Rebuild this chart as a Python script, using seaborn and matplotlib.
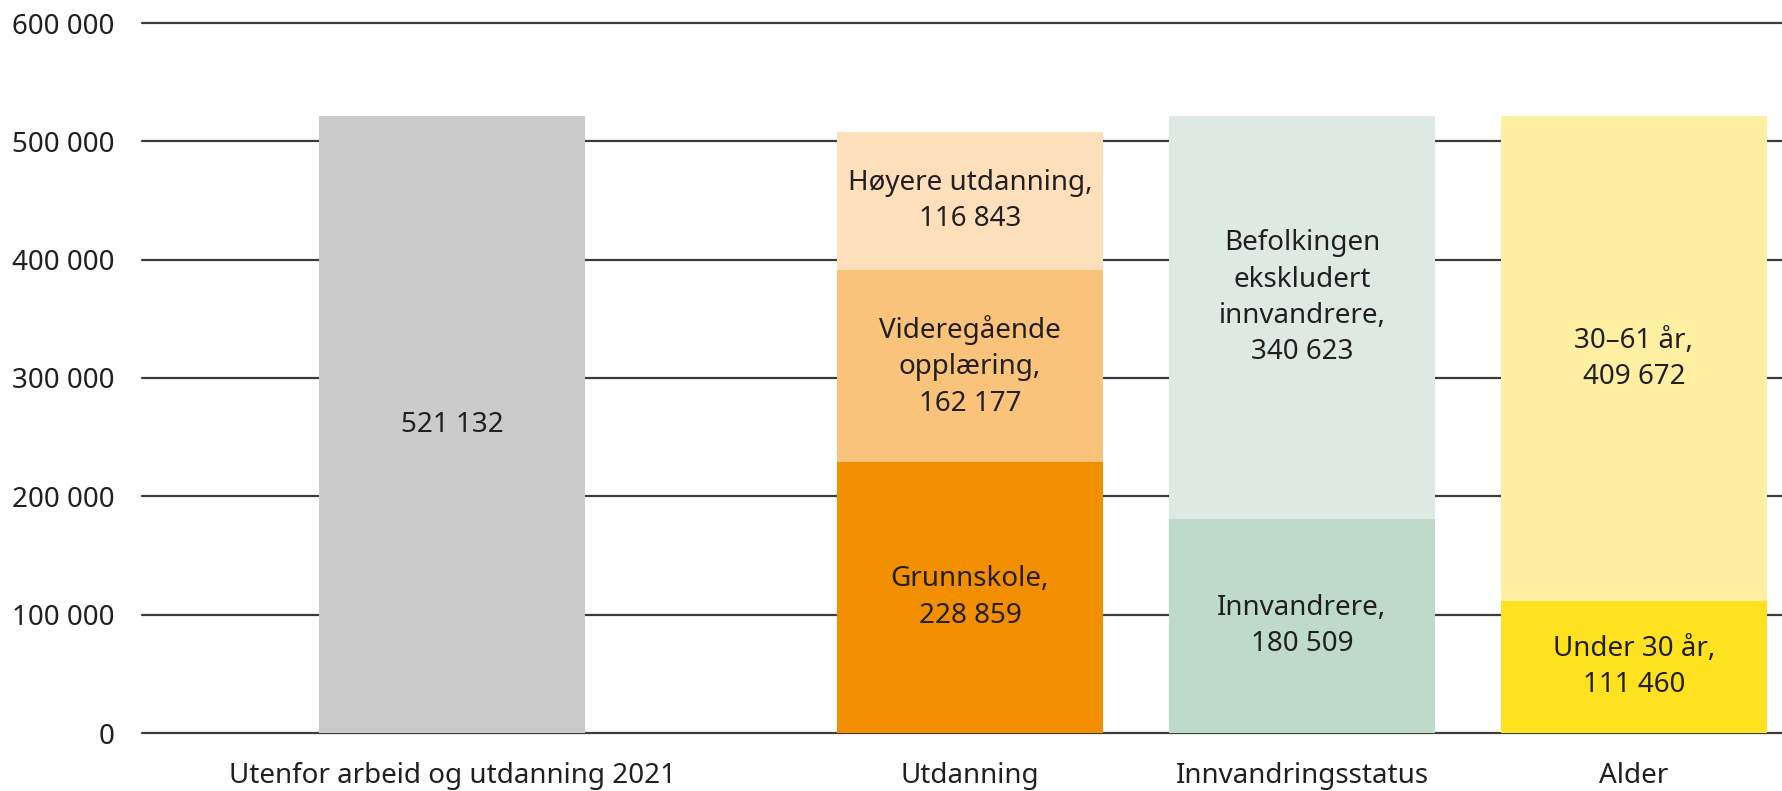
import pandas as pd
import matplotlib.pyplot as plt
import seaborn as sns

# bar groups and their positions along the x axis (uneven spacing as in the original)
groups = ["Utenfor arbeid og utdanning 2021", "Utdanning", "Innvandringsstatus", "Alder"]
group_pos = [0.0, 1.56, 2.56, 3.56]

# segments, bottom to top, per group
segments = {
    "Utenfor arbeid og utdanning 2021": [("521 132", 521132)],
    "Utdanning": [("Grunnskole,\n228 859", 228859),
                  ("Videregående\nopplæring,\n162 177", 162177),
                  ("Høyere utdanning,\n116 843", 116843)],
    "Innvandringsstatus": [("Innvandrere,\n180 509", 180509),
                           ("Befolkingen\nekskludert\ninnvandrere,\n340 623", 340623)],
    "Alder": [("Under 30 år,\n111 460", 111460),
              ("30–61 år,\n409 672", 409672)],
}
colors = {
    "Utenfor arbeid og utdanning 2021": ["#CACACA"],
    "Utdanning": ["#F18F00", "#F9C37C", "#FDDFBC"],
    "Innvandringsstatus": ["#BDDACB", "#DFE9E3"],
    "Alder": ["#FFE21F", "#FFEFA2"],
}

yticks = [0, 100000, 200000, 300000, 400000, 500000, 600000]
ytick_labels = ["0", "100 000", "200 000", "300 000", "400 000", "500 000", "600 000"]

sns.set_style("white")
plt.rcParams['font.family'] = ['Noto Sans', 'DejaVu Sans']
text_color = "#231F20"

fig = plt.figure(figsize=(17.82, 7.91), dpi=100)
ax = fig.add_axes([142 / 1782, 1 - 733 / 791, 1 - 142 / 1782, (733 - 23) / 791])

# build cumulative tops so that the stack can be drawn as overlapping layers
rows = []
for g, x in zip(groups, group_pos):
    cum = 0
    for level, (label, val) in enumerate(segments[g]):
        rows.append({"group": g, "x": x, "level": level, "label": label,
                     "bottom": cum, "top": cum + val,
                     "key": f"{g}-{level}", "color": colors[g][level]})
        cum += val
df = pd.DataFrame(rows)
max_level = df["level"].max()

# draw top layers first, lower segments on top of them
for level in range(max_level, -1, -1):
    layer = df[df["level"] == level]
    sns.barplot(data=layer, x="x", y="top", hue="key", native_scale=True,
                palette=dict(zip(layer["key"], layer["color"])),
                width=0.8, saturation=1, legend=False, ax=ax, zorder=2,
                linewidth=0)

# the long label in the green bar sits a bit above the segment centre
label_shift = {"Innvandringsstatus-1": 17000}
for _, r in df.iterrows():
    y = (r["bottom"] + r["top"]) / 2 + label_shift.get(r["key"], 0)
    ax.text(r["x"], y, r["label"], ha="center", va="center",
            fontsize=20, color=text_color, linespacing=1.4, zorder=3)

ax.set_xlim(-0.934, 4.006)
ax.set_ylim(0, 600000)
ax.set_yticks(yticks)
ax.set_yticklabels(ytick_labels)
ax.set_xticks(group_pos)
ax.set_xticklabels(groups)
ax.set_xlabel("")
ax.set_ylabel("")
ax.tick_params(axis="both", length=0, labelsize=20, colors=text_color)
ax.tick_params(axis="y", pad=20)
ax.tick_params(axis="x", pad=21)
ax.set_axisbelow(True)
ax.yaxis.grid(True, color="#3C3C3C", linewidth=1.6)
ax.xaxis.grid(False)
for line in ax.get_ygridlines():
    line.set_clip_on(False)
sns.despine(ax=ax, left=True, bottom=True, top=True, right=True)

fig.savefig("out.png", dpi=100)
